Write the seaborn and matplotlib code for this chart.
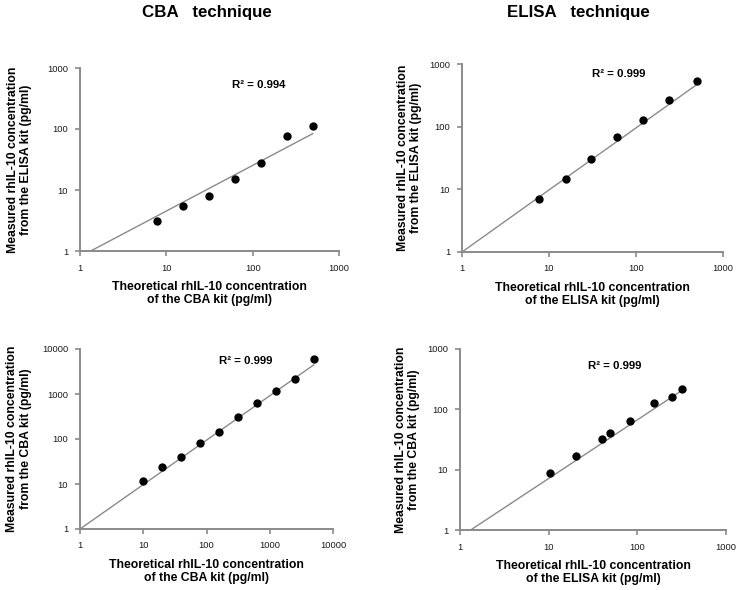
"""Standard curves of rhIL-10: CBA vs ELISA kits, log-log panels with power trendlines."""

import matplotlib.pyplot as plt
import matplotlib.ticker as mticker
import numpy as np
import pandas as pd
import seaborn as sns


# --- data ----------------------------------------------------------------
# top-left: CBA standards measured with the ELISA kit
cba_std_elisa_x = [7.8, 15.6, 31.25, 62.5, 125, 250, 500]
cba_std_elisa_y = [3.1, 5.5, 8.1, 14.9, 27.7, 76, 114]
# top-right: ELISA standards measured with the ELISA kit
elisa_std_elisa_x = [7.6, 15.6, 30.6, 61, 121, 242, 503]
elisa_std_elisa_y = [6.9, 14.4, 31, 68, 130, 265, 530]
# bottom-left: CBA standards measured with the CBA kit
cba_std_cba_x = [9.77, 19.5, 39, 78, 156, 312.5, 625, 1250, 2500, 5000]
cba_std_cba_y = [11.4, 24, 40.6, 81.5, 145, 302, 617, 1156, 2204, 6010]
# bottom-right: ELISA standards measured with the CBA kit
elisa_std_cba_x = [10.3, 20.1, 40.4, 49.7, 82, 155, 249, 318]
elisa_std_cba_y = [8.7, 17.1, 32, 40.3, 63, 127, 161, 214]

# power trendlines y = c * x^m, drawn from x_start to the last point
trend_start = [1.33, 1.0, 1.0, 1.32]
trend_slope = [0.748, 0.99, 0.987, 0.971]
trend_coef = [0.808, 1.0, 1.0, 0.764]
r2_labels = ["R² = 0.994", "R² = 0.999", "R² = 0.999", "R² = 0.999"]

x_labels = [
    "Theoretical rhIL-10 concentration\nof the CBA kit (pg/ml)",
    "Theoretical rhIL-10 concentration\nof the ELISA kit (pg/ml)",
    "Theoretical rhIL-10 concentration\nof the CBA kit (pg/ml)",
    "Theoretical rhIL-10 concentration\nof the ELISA kit (pg/ml)",
]
y_labels = [
    "Measured rhIL-10 concentration\nfrom the ELISA kit (pg/ml)",
    "Measured rhIL-10 concentration\nfrom the ELISA kit (pg/ml)",
    "Measured rhIL-10 concentration\nfrom the CBA kit (pg/ml)",
    "Measured rhIL-10 concentration\nfrom the CBA kit (pg/ml)",
]
axis_max = [1000, 1000, 10000, 1000]
column_titles = ["CBA   technique", "ELISA   technique"]

GREY = "#8a8a8a"
W, H = 740, 590

# pixel boxes of the four plot areas: left, right, top, bottom
BOXES = [(80, 339, 68, 251), (462, 723, 64, 252), (80, 333, 349, 529), (460, 726, 349, 530)]
R2_POS = [(0.69, 0.907), (0.60, 0.947), (0.655, 0.933), (0.583, 0.906)]
YLABEL_X = [-0.185, -0.153, -0.191, -0.150]


def desenhar_painel(ax, x, y, i):
    df = pd.DataFrame({"x": x, "y": y})
    ax.set_xscale("log")
    ax.set_yscale("log")

    tx = np.array([trend_start[i], x[-1]])
    ty = trend_coef[i] * tx ** trend_slope[i]
    sns.lineplot(x=tx, y=ty, ax=ax, color=GREY, linewidth=1.0)
    sns.scatterplot(data=df, x="x", y="y", ax=ax, color="black", s=36,
                    linewidth=0, zorder=3)

    top = axis_max[i]
    ax.set_xlim(1, top)
    ax.set_ylim(1, top)
    ticks = [10 ** k for k in range(int(np.log10(top)) + 1)]
    ax.xaxis.set_major_locator(mticker.FixedLocator(ticks))
    ax.yaxis.set_major_locator(mticker.FixedLocator(ticks))
    ax.xaxis.set_minor_locator(mticker.NullLocator())
    ax.yaxis.set_minor_locator(mticker.NullLocator())
    ax.set_xticklabels([str(t) for t in ticks])
    ax.set_yticklabels([str(t) for t in ticks])
    ax.tick_params(axis="both", which="major", length=3.5, width=1.2, color=GREY,
                   labelsize=6.7, labelcolor="#1a1a1a", direction="out")
    ax.tick_params(axis="x", pad=5.5)
    ax.tick_params(axis="y", pad=5)

    for side in ["top", "right"]:
        ax.spines[side].set_visible(False)
    for side in ["left", "bottom"]:
        ax.spines[side].set_color(GREY)
        ax.spines[side].set_linewidth(1.4)

    ax.set_xlabel(x_labels[i], fontsize=8.8, fontweight="bold", labelpad=6,
                  linespacing=1.15, color="black")
    ax.set_ylabel(y_labels[i], fontsize=8.8, fontweight="bold", linespacing=1.15,
                  color="black")
    ax.yaxis.set_label_coords(YLABEL_X[i], 0.5)

    ax.text(R2_POS[i][0], R2_POS[i][1], r2_labels[i], transform=ax.transAxes,
            ha="center", va="center", fontsize=8.2, fontweight="bold", color="black")


def main():
    sns.set_style("ticks")
    plt.rcParams["font.family"] = ["Liberation Sans", "DejaVu Sans"]
    plt.rcParams["text.color"] = "black"
    plt.rcParams["axes.labelcolor"] = "black"

    fig = plt.figure(figsize=(W / 100, H / 100), dpi=100)
    series = [
        (cba_std_elisa_x, cba_std_elisa_y),
        (elisa_std_elisa_x, elisa_std_elisa_y),
        (cba_std_cba_x, cba_std_cba_y),
        (elisa_std_cba_x, elisa_std_cba_y),
    ]
    for i, (x, y) in enumerate(series):
        l, r, t, b = BOXES[i]
        ax = fig.add_axes([l / W, 1 - b / H, (r - l) / W, (b - t) / H])
        desenhar_painel(ax, x, y, i)

    fig.text(207 / W, 1 - 13 / H, column_titles[0], ha="center", va="center",
             fontsize=12.2, fontweight="bold", color="black")
    fig.text(578 / W, 1 - 13 / H, column_titles[1], ha="center", va="center",
             fontsize=12.2, fontweight="bold", color="black")

    fig.savefig("out.png", dpi=100)
    plt.close(fig)


if __name__ == "__main__":
    main()
